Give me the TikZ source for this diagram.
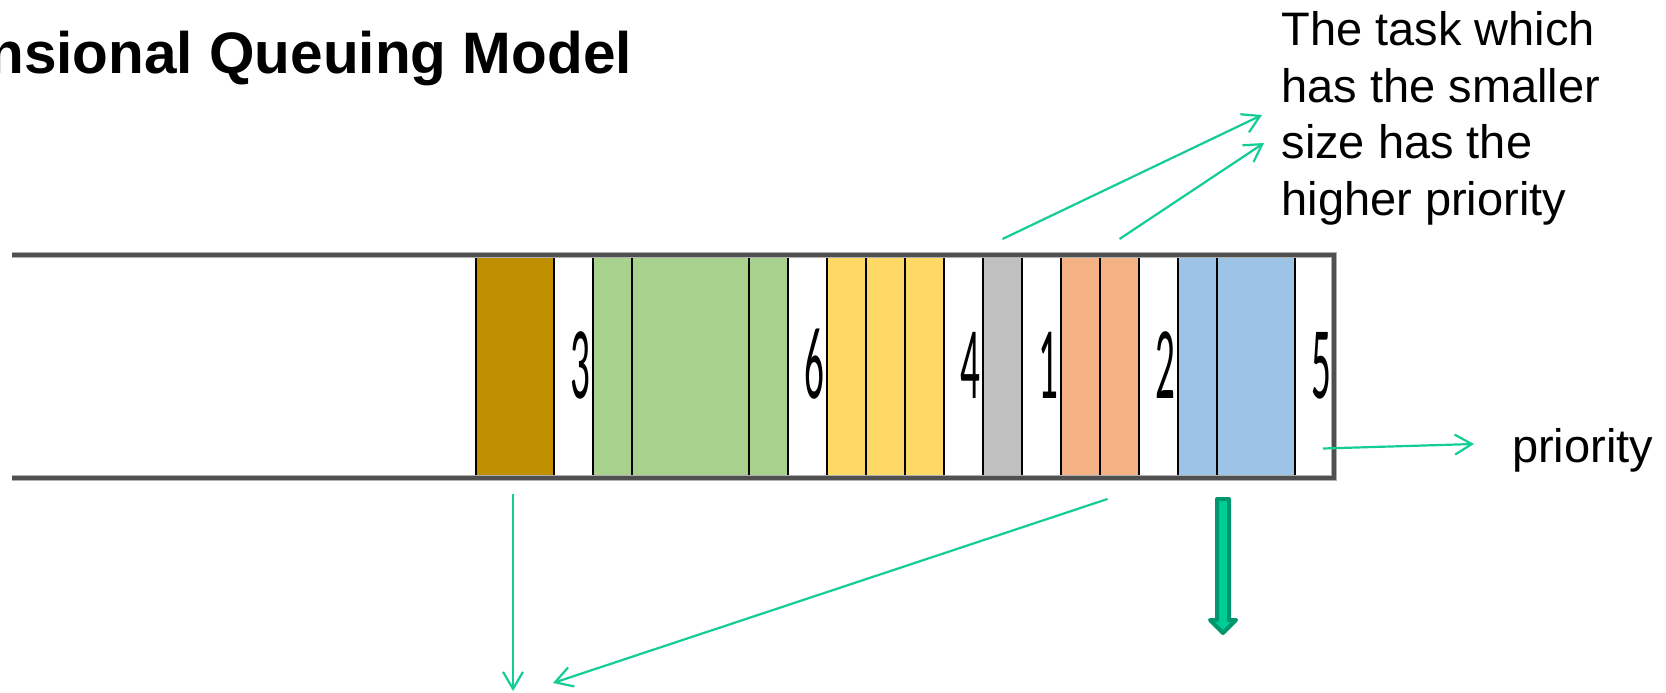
\documentclass[tikz,border=0pt]{standalone}
\usepackage{fontspec}
\setmainfont{Liberation Sans}
\newfontfamily\digitfont{Carlito}
\usetikzlibrary{arrows.meta}

\definecolor{taskbrown}{RGB}{191,143,0}
\definecolor{taskgreen}{RGB}{169,209,142}
\definecolor{taskyellow}{RGB}{255,217,102}
\definecolor{taskgray}{RGB}{192,192,192}
\definecolor{taskorange}{RGB}{244,177,131}
\definecolor{taskblue}{RGB}{157,195,230}
\definecolor{pointercol}{RGB}{20,204,150}
\definecolor{outfill}{RGB}{0,204,150}
\definecolor{outedge}{RGB}{0,150,110}
\definecolor{railcol}{RGB}{80,80,80}
\definecolor{railshade}{RGB}{175,175,175}

\begin{document}
\begin{tikzpicture}[x=1pt,y=-1pt,
  cellbox/.style={draw=black, line width=1.3pt, inner sep=0pt, outer sep=0pt,
    minimum height=223pt, minimum width=39pt},
  freecell/.style={inner sep=0pt, outer sep=0pt, minimum height=223pt, minimum width=39pt},
  slotnum/.style={inner sep=0pt, outer sep=0pt, anchor=base,
    font=\digitfont\fontsize{103}{110}\selectfont},
  pointer/.style={draw=pointercol, line width=2.2pt,
    -{Straight Barb[length=17pt,width=20pt]}},
  notetext/.style={inner sep=0pt, outer sep=0pt, font=\fontsize{47}{56.7}\selectfont},
  outarrow/.style={draw=outedge, fill=outfill, line width=4pt, line join=round}]

\useasboundingbox (0,0) rectangle (1666,693);

% heading
\node[anchor=base east, inner sep=0pt, font=\bfseries\fontsize{58.5}{62}\selectfont]
  (title) at (632,74) {nsional Queuing Model};

% task slots of the queue
\node[cellbox, fill=taskbrown, minimum width=78pt]  (c1)  at (515,366.5) {};
\node[freecell]                                     (c2)  at (573.5,366.5) {};
\node[cellbox, fill=taskgreen]                      (c3)  at (612.5,366.5) {};
\node[cellbox, fill=taskgreen, minimum width=117pt] (c4)  at (690.5,366.5) {};
\node[cellbox, fill=taskgreen]                      (c5)  at (768.5,366.5) {};
\node[freecell]                                     (c6)  at (807.5,366.5) {};
\node[cellbox, fill=taskyellow]                     (c7)  at (846.5,366.5) {};
\node[cellbox, fill=taskyellow]                     (c8)  at (885.5,366.5) {};
\node[cellbox, fill=taskyellow]                     (c9)  at (924.5,366.5) {};
\node[freecell]                                     (c10) at (963.5,366.5) {};
\node[cellbox, fill=taskgray]                       (c11) at (1002.5,366.5) {};
\node[freecell]                                     (c12) at (1041.5,366.5) {};
\node[cellbox, fill=taskorange]                     (c13) at (1080.5,366.5) {};
\node[cellbox, fill=taskorange]                     (c14) at (1119.5,366.5) {};
\node[freecell]                                     (c15) at (1158.5,366.5) {};
\node[cellbox, fill=taskblue]                       (c16) at (1197.5,366.5) {};
\node[cellbox, fill=taskblue, minimum width=78pt]   (c17) at (1256,366.5) {};
\node[freecell]                                     (c18) at (1314.5,366.5) {};

% priority numbers
\node[slotnum] (n3) at (580,398)  {\scalebox{0.38}[1]{3}};
\node[slotnum] (n6) at (814,398)  {\scalebox{0.38}[1]{6}};
\node[slotnum] (n4) at (970,398)  {\scalebox{0.38}[1]{4}};
\node[slotnum] (n1) at (1048,398) {\scalebox{0.38}[1]{1}};
\node[slotnum] (n2) at (1165,398) {\scalebox{0.38}[1]{2}};
\node[slotnum] (n5) at (1321,398) {\scalebox{0.38}[1]{5}};

% queue rails
\draw[railshade, line width=6.5pt, line join=miter]
  (12,255) -- (1334,255) -- (1334,478) -- (12,478);
\draw[railcol, line width=3.5pt, line join=miter]
  (12,255) -- (1334,255) -- (1334,478) -- (12,478);

% explanatory texts
\node[notetext, anchor=north west, align=left] (rule) at (1281.5,11.3)
  {The task which\\has the smaller\\size has the\\higher priority};
\node[notetext, anchor=base west] (prio) at (1512,462) {priority};

% connector end points
\coordinate (q1) at ([yshift=16pt]c11.north);
\coordinate (q2) at ([yshift=16pt]c14.north);
\coordinate (q3) at ([xshift=8.5pt,yshift=-82pt]c18.center);
\coordinate (q4) at ([xshift=-2pt,yshift=-16pt]c1.south);
\coordinate (q5) at ([xshift=-12pt,yshift=-21pt]c14.south);
\coordinate (t1) at (1262,115);
\coordinate (t2) at (1264,143);
\coordinate (t3) at (1474,444);
\coordinate (t4) at (513,691);
\coordinate (t5) at (553,683);

\draw[pointer] (q1) -- (t1);
\draw[pointer] (q2) -- (t2);
\draw[pointer] (q3) -- (t3);
\draw[pointer] (q4) -- (t4);
\draw[pointer] (q5) -- (t5);

% outgoing task
\draw[outarrow] (1217,499) -- (1217,620) -- (1210,620) -- (1223,633)
  -- (1236,620) -- (1229,620) -- (1229,499) -- cycle;

\end{tikzpicture}
\end{document}
